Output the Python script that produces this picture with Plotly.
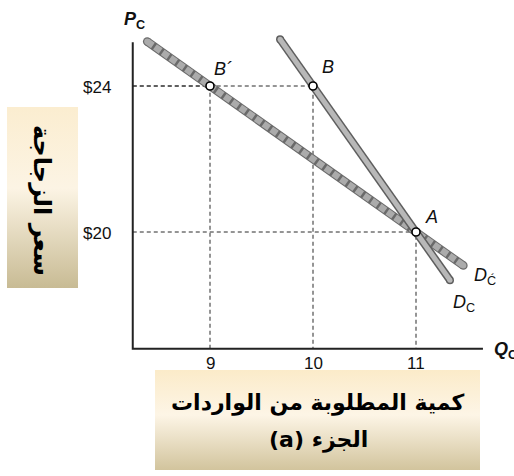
import plotly.graph_objects as go

# Import demand example: price of glass vs. quantity of imports demanded
q_ticks = [9, 10, 11]
q_tick_labels = ["9", "10", "11"]
p_ticks = [24, 20]
p_tick_labels = ["$24", "$20"]

# Steeper demand curve D_C (passes through B and A)
dc_q = [9.68, 10, 11, 11.33]
dc_p = [25.28, 24, 20, 18.68]

# Flatter demand curve D'_C (passes through B' and A)
dcp_q = [8.39, 9, 11, 11.46]
dcp_p = [25.22, 24, 20, 19.08]

# Marked points
pt_names = ["B´", "B", "A"]
pt_q = [9, 10, 11]
pt_p = [24, 24, 20]

# Axis extent
q_min, q_max = 8.25, 11.65
p_min, p_max = 16.8, 25.2

W, H = 514, 476
FONT = "Liberation Sans, Arial, sans-serif"
AR_FONT = "DejaVu Sans, sans-serif"

fig = go.Figure()

# Reference (dashed) guide lines from each point to the axes
for q, p in zip(pt_q, pt_p):
    fig.add_trace(go.Scatter(
        x=[q_min, q, q], y=[p, p, p_min], mode="lines",
        line=dict(color="#2a2a2a", width=1, dash="4px,3px"),
        hoverinfo="skip", showlegend=False))

# Flatter curve: dark outline + beaded light fill
fig.add_trace(go.Scatter(
    x=[dcp_q[0], dcp_q[-1]], y=[dcp_p[0], dcp_p[-1]], mode="lines+markers",
    line=dict(color="#6a6a6a", width=8.5),
    marker=dict(size=8.5, color="#6a6a6a"),
    hoverinfo="skip", showlegend=False))
fig.add_trace(go.Scatter(
    x=[dcp_q[0], dcp_q[-1]], y=[dcp_p[0], dcp_p[-1]], mode="lines+markers",
    line=dict(color="#ababab", width=6.5, dash="7px,2.5px"),
    marker=dict(size=6, color="#ababab"),
    hoverinfo="skip", showlegend=False))

# Steeper curve: dark outline + solid light fill
fig.add_trace(go.Scatter(
    x=[dc_q[0], dc_q[-1]], y=[dc_p[0], dc_p[-1]], mode="lines+markers",
    line=dict(color="#5e5e5e", width=8),
    marker=dict(size=8, color="#5e5e5e"),
    hoverinfo="skip", showlegend=False))
fig.add_trace(go.Scatter(
    x=[dc_q[0], dc_q[-1]], y=[dc_p[0], dc_p[-1]], mode="lines+markers",
    line=dict(color="#b8b8b8", width=5),
    marker=dict(size=5, color="#b8b8b8"),
    hoverinfo="skip", showlegend=False))

# Axes
fig.add_trace(go.Scatter(
    x=[q_min, q_min, q_max], y=[p_max, p_min, p_min], mode="lines",
    line=dict(color="#222222", width=2),
    hoverinfo="skip", showlegend=False))

# Open circles at the points
fig.add_trace(go.Scatter(
    x=pt_q, y=pt_p, mode="markers",
    marker=dict(size=8, color="white", line=dict(color="black", width=1.6)),
    hoverinfo="skip", showlegend=False))

# Tick labels
for q, lab in zip(q_ticks, q_tick_labels):
    fig.add_annotation(x=q, y=p_min, yshift=-15, text=lab, showarrow=False,
                       xanchor="center", yanchor="middle",
                       font=dict(family=FONT, size=17, color="#111"))
for p, lab in zip(p_ticks, p_tick_labels):
    fig.add_annotation(x=q_min, y=p, xshift=-36, yshift=-1, text=lab, showarrow=False,
                       xanchor="center", yanchor="middle",
                       font=dict(family=FONT, size=17, color="#111"))

# Point labels
lab_font = dict(family=FONT, size=18, color="#111")
pt_offsets = [(13, 17), (15, 19), (15, 15)]
for name, q, p, (dx, dy) in zip(pt_names, pt_q, pt_p, pt_offsets):
    fig.add_annotation(x=q, y=p, xshift=dx, yshift=dy, text=f"<i>{name}</i>",
                       showarrow=False, xanchor="center", yanchor="middle",
                       font=lab_font)

# Curve and axis-name labels (paper coordinates)
def ann(px, py, text, size=18):
    fig.add_annotation(x=px / W, y=1 - py / H, xref="paper", yref="paper",
                       text=text, showarrow=False,
                       xanchor="center", yanchor="middle",
                       font=dict(family=FONT, size=size, color="#111"))

ann(485, 276, "<i>D</i><sub>Ć</sub>")
ann(464, 303, "<i>D</i><sub>C</sub>")
ann(134, 21, "<b><i>P</i></b><sub><b>C</b></sub>")
ann(505, 350, "<b><i>Q</i></b><sub><b>C</b></sub>")

# Gradient label boxes (pixel-space axes x2/y2)
def box(x0, y0, x1, y1, c_top, c_mid, c_bot):
    fig.add_trace(go.Scatter(
        x=[x0, x1, x1, x0, x0], y=[y0, y0, y1, y1, y0],
        xaxis="x2", yaxis="y2", mode="lines", line=dict(width=0),
        fill="toself",
        fillgradient=dict(type="vertical", start=y0, stop=y1,
                          colorscale=[[0, c_top], [0.45, c_mid], [1, c_bot]]),
        hoverinfo="skip", showlegend=False))

box(7, 107, 78, 288, "#fbedd0", "#fcf4e4", "#c8bb94")
box(155, 370, 480, 470, "#fbebc9", "#fdf5e6", "#d2c49d")

fig.add_annotation(x=42, y=200, xref="x2", yref="y2", text="<b>سعر الزجاجة</b>",
                   showarrow=False, textangle=90,
                   xanchor="center", yanchor="middle",
                   font=dict(family=AR_FONT, size=24, color="black"))
fig.add_annotation(x=318, y=403, xref="x2", yref="y2",
                   text="<b>كمية المطلوبة من الواردات</b>",
                   showarrow=False, xanchor="center", yanchor="middle",
                   font=dict(family=AR_FONT, size=22, color="black"))
fig.add_annotation(x=318, y=440, xref="x2", yref="y2",
                   text="<b>\u202bالجزء (a)\u202c</b>",
                   showarrow=False, xanchor="center", yanchor="middle",
                   font=dict(family=AR_FONT, size=22, color="black"))

x_lo = 9 - 210 / 103
x_hi = 9 + (W - 210) / 103
y_hi = 24 + 86 / 36.5
y_lo = 24 - (H - 86) / 36.5

fig.update_layout(
    width=W, height=H,
    margin=dict(l=0, r=0, t=0, b=0),
    paper_bgcolor="white", plot_bgcolor="white",
    xaxis=dict(range=[x_lo, x_hi], visible=False, fixedrange=True),
    yaxis=dict(range=[y_lo, y_hi], visible=False, fixedrange=True),
    xaxis2=dict(range=[0, W], visible=False, overlaying="x", fixedrange=True),
    yaxis2=dict(range=[H, 0], visible=False, overlaying="y", fixedrange=True),
    showlegend=False,
)

fig.write_html("out.html")
